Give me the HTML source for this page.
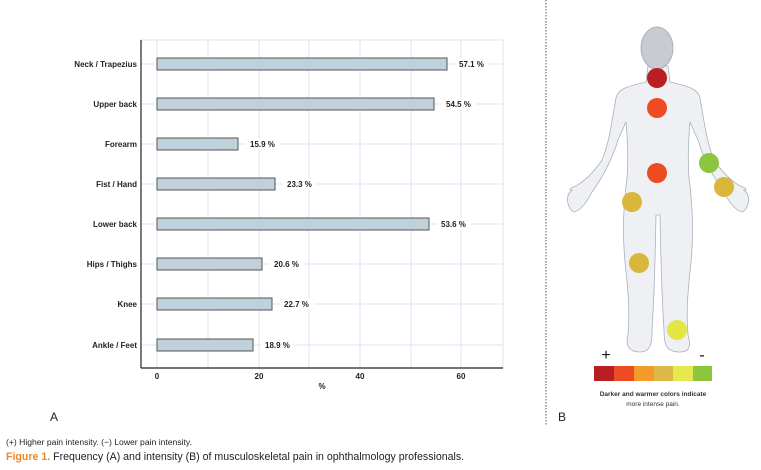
<!DOCTYPE html>
<html><head><meta charset="utf-8"><style>
html,body{margin:0;padding:0;background:#fff;}
svg{display:block;font-family:"Liberation Sans",Arial,sans-serif;}
</style></head><body>
<svg width="761" height="470" viewBox="0 0 761 470" xmlns="http://www.w3.org/2000/svg">
<rect width="761" height="470" fill="#fff"/>
<g stroke="#dde6f2" stroke-width="1">
<line x1="157" y1="40" x2="157" y2="368"/><line x1="208" y1="40" x2="208" y2="368"/>
<line x1="259" y1="40" x2="259" y2="368"/><line x1="309" y1="40" x2="309" y2="368"/>
<line x1="360" y1="40" x2="360" y2="368"/><line x1="411" y1="40" x2="411" y2="368"/>
<line x1="461" y1="40" x2="461" y2="368"/>
<line x1="141" y1="40" x2="503" y2="40"/><line x1="503" y1="40" x2="503" y2="368"/>
<line x1="141" y1="64" x2="503" y2="64"/><line x1="141" y1="104" x2="503" y2="104"/>
<line x1="141" y1="144" x2="503" y2="144"/><line x1="141" y1="184" x2="503" y2="184"/>
<line x1="141" y1="224" x2="503" y2="224"/><line x1="141" y1="264" x2="503" y2="264"/>
<line x1="141" y1="304" x2="503" y2="304"/><line x1="141" y1="345" x2="503" y2="345"/>
</g>
<line x1="141" y1="40" x2="141" y2="368" stroke="#222" stroke-width="1.2"/>
<line x1="141" y1="368" x2="503" y2="368" stroke="#222" stroke-width="1.2"/>
<g fill="#c0d1db" stroke="#555" stroke-width="1">
<rect x="157" y="58" width="290" height="12"/>
<rect x="157" y="98" width="277" height="12"/>
<rect x="157" y="138" width="81" height="12"/>
<rect x="157" y="178" width="118" height="12"/>
<rect x="157" y="218" width="272" height="12"/>
<rect x="157" y="258" width="105" height="12"/>
<rect x="157" y="298" width="115" height="12"/>
<rect x="157" y="339" width="96" height="12"/>
</g>
<g font-size="8" font-weight="bold" fill="#222" text-anchor="end">
<text x="137" y="67">Neck / Trapezius</text><text x="137" y="107">Upper back</text>
<text x="137" y="147">Forearm</text><text x="137" y="187">Fist / Hand</text>
<text x="137" y="227">Lower back</text><text x="137" y="267">Hips / Thighs</text>
<text x="137" y="307">Knee</text><text x="137" y="348">Ankle / Feet</text>
</g>
<g font-size="8" font-weight="bold" fill="#222">
<rect x="455" y="58" width="34" height="12" fill="#fff"/><text x="459" y="67">57.1 %</text>
<rect x="442" y="98" width="34" height="12" fill="#fff"/><text x="446" y="107">54.5 %</text>
<rect x="246" y="138" width="34" height="12" fill="#fff"/><text x="250" y="147">15.9 %</text>
<rect x="283" y="178" width="34" height="12" fill="#fff"/><text x="287" y="187">23.3 %</text>
<rect x="437" y="218" width="34" height="12" fill="#fff"/><text x="441" y="227">53.6 %</text>
<rect x="270" y="258" width="34" height="12" fill="#fff"/><text x="274" y="267">20.6 %</text>
<rect x="280" y="298" width="34" height="12" fill="#fff"/><text x="284" y="307">22.7 %</text>
<rect x="261" y="339" width="34" height="12" fill="#fff"/><text x="265" y="348">18.9 %</text>
</g>
<g font-size="8" font-weight="bold" fill="#222" text-anchor="middle">
<text x="157" y="379">0</text><text x="259" y="379">20</text><text x="360" y="379">40</text><text x="461" y="379">60</text>
<text x="322" y="389">%</text>
</g>
<text x="50" y="421" font-size="12" fill="#222">A</text>
<line x1="546" y1="0" x2="546" y2="425" stroke="#555" stroke-width="1" stroke-dasharray="1.5,1.5"/>
<g fill="#eef0f4" stroke="#aab0bb" stroke-width="0.8">
<path d="M648,66 L646,82 C630,86 618,88 616,98 C612,120 610,140 602,160 C594,172 586,180 576,186 C570,188 568,190 572,190 C564,196 568,210 574,212 C582,210 588,200 592,192 C602,178 612,160 618,140 L626,122 C628,145 628,165 627,178 C624,200 622,230 625,262 C628,290 630,310 628,335 C626,342 626,352 640,352 C652,352 652,340 652,330 C654,300 655,270 656,215 L660,215 C661,270 662,300 664,330 C664,345 666,352 680,352 C692,352 690,342 688,335 C686,310 688,290 691,262 C694,230 692,200 689,178 C688,165 688,145 690,122 L698,140 C704,160 714,178 724,192 C728,200 734,210 742,212 C748,210 752,196 744,190 C748,190 746,188 740,186 C730,180 722,172 714,160 C706,140 704,120 700,98 C698,88 686,86 670,82 L668,66 Z"/>
</g>
<ellipse cx="657" cy="48" rx="16" ry="21" fill="#c8ccd2" stroke="#a0a6ae" stroke-width="0.8"/>
<g>
<circle cx="657" cy="78" r="10" fill="#b81e22"/>
<circle cx="657" cy="108" r="10" fill="#ee4b22"/>
<circle cx="657" cy="173" r="10" fill="#ee4b22"/>
<circle cx="709" cy="163" r="10" fill="#8cc63f"/>
<circle cx="724" cy="187" r="10" fill="#d8b73a"/>
<circle cx="632" cy="202" r="10" fill="#d8b73a"/>
<circle cx="639" cy="263" r="10" fill="#d8b73a"/>
<circle cx="677" cy="330" r="10" fill="#e3e645"/>
</g>
<text x="606" y="360" font-size="16" text-anchor="middle" fill="#111">+</text>
<text x="702" y="360" font-size="16" text-anchor="middle" fill="#111">-</text>
<rect x="594" y="366" width="20" height="15" fill="#b81e22"/>
<rect x="614" y="366" width="20" height="15" fill="#ee4b22"/>
<rect x="634" y="366" width="20" height="15" fill="#f59a2a"/>
<rect x="654" y="366" width="19" height="15" fill="#dcb948"/>
<rect x="673" y="366" width="20" height="15" fill="#e5e94e"/>
<rect x="693" y="366" width="19" height="15" fill="#8cc63f"/>
<text x="653" y="396" font-size="6.5" font-weight="bold" text-anchor="middle" fill="#333">Darker and warmer colors indicate</text>
<text x="653" y="406" font-size="6.5" text-anchor="middle" fill="#333">more intense pain.</text>
<text x="558" y="421" font-size="12" fill="#222">B</text>
<text x="6" y="445" font-size="8.6" fill="#222">(+) Higher pain intensity. (−) Lower pain intensity.</text>
<text x="6" y="460" font-size="10.6" fill="#222"><tspan fill="#f08a1e" font-weight="bold">Figure 1.</tspan> Frequency (A) and intensity (B) of musculoskeletal pain in ophthalmology professionals.</text>
</svg>
</body></html>
